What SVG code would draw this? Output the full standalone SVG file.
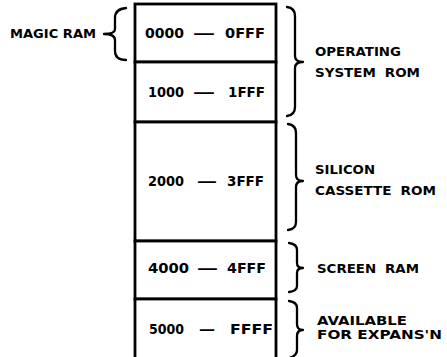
<svg xmlns="http://www.w3.org/2000/svg" width="447" height="357" viewBox="0 0 447 357">
<style>
.box{fill:#fff;stroke:#000;stroke-width:2.8}
.br{fill:none;stroke:#000;stroke-width:2.3;stroke-linecap:round;stroke-linejoin:round}
.rng{font-family:"DejaVu Sans","Liberation Sans",Arial,sans-serif;font-weight:bold;font-size:13.5px;fill:#000}
.lbl{font-family:"DejaVu Sans","Liberation Sans",Arial,sans-serif;font-weight:bold;font-size:12.5px;fill:#000}
</style>
<rect width="447" height="357" fill="#fff"/>
<g id="memory-map">
<g id="seg-0000"><rect class="box" x="135" y="4" width="141" height="58"/><text class="rng" y="38"><tspan x="145" textLength="39" lengthAdjust="spacingAndGlyphs">0000</tspan><tspan x="193" textLength="22" lengthAdjust="spacingAndGlyphs">—</tspan><tspan x="225" textLength="40" lengthAdjust="spacingAndGlyphs">0FFF</tspan></text></g>
<g id="seg-1000"><rect class="box" x="135" y="62" width="141" height="60"/><text class="rng" y="97"><tspan x="148" textLength="36" lengthAdjust="spacingAndGlyphs">1000</tspan><tspan x="193" textLength="22" lengthAdjust="spacingAndGlyphs">—</tspan><tspan x="228" textLength="37" lengthAdjust="spacingAndGlyphs">1FFF</tspan></text></g>
<g id="seg-2000"><rect class="box" x="135" y="122" width="141" height="119"/><text class="rng" y="186"><tspan x="148" textLength="36" lengthAdjust="spacingAndGlyphs">2000</tspan><tspan x="197" textLength="20" lengthAdjust="spacingAndGlyphs">—</tspan><tspan x="227" textLength="37" lengthAdjust="spacingAndGlyphs">3FFF</tspan></text></g>
<g id="seg-4000"><rect class="box" x="135" y="241" width="141" height="58"/><text class="rng" y="273"><tspan x="148" textLength="41" lengthAdjust="spacingAndGlyphs">4000</tspan><tspan x="197" textLength="21" lengthAdjust="spacingAndGlyphs">—</tspan><tspan x="227" textLength="39" lengthAdjust="spacingAndGlyphs">4FFF</tspan></text></g>
<g id="seg-5000"><rect class="box" x="135" y="299" width="141" height="70"/><text class="rng" y="334"><tspan x="149" textLength="35" lengthAdjust="spacingAndGlyphs">5000</tspan><tspan x="199" textLength="16" lengthAdjust="spacingAndGlyphs">—</tspan><tspan x="230" textLength="43" lengthAdjust="spacingAndGlyphs">FFFF</tspan></text></g>
</g>
<g id="connectors">
<path class="br" d="M126 8 Q115 9 115 18 L115 29 Q115 34 104 34 Q115 34 115 40 L115 51 Q115 60 126 60"/>
<path class="br" d="M287 7 Q295 8 295 16 L295 56 Q295 62 303 62 Q295 62 295 68 L295 107 Q295 115 287 116"/>
<path class="br" d="M288 124 Q296 125 296 133 L296 175 Q296 181 303 181 Q296 181 296 187 L296 222 Q296 229 288 230"/>
<path class="br" d="M289 243 Q297 244 297 250 L297 263 Q297 268 303 268 Q297 268 297 273 L297 286 Q297 291 289 292"/>
<path class="br" d="M289 301 Q297 302 297 308 L297 324 Q297 330 303 330 Q297 330 297 336 L297 350 Q297 356 289 358"/>
</g>
<g id="label-magic-ram"><text class="lbl" x="10" y="38" font-size="13" textLength="86" lengthAdjust="spacingAndGlyphs">MAGIC RAM</text></g>
<g id="label-os-rom"><text class="lbl" x="315" y="56" textLength="86" lengthAdjust="spacingAndGlyphs">OPERATING</text><text class="lbl" x="315" y="77" textLength="105" lengthAdjust="spacingAndGlyphs" word-spacing="4">SYSTEM ROM</text></g>
<g id="label-cassette"><text class="lbl" x="315" y="174" textLength="60" lengthAdjust="spacingAndGlyphs">SILICON</text><text class="lbl" x="315" y="195" textLength="121" lengthAdjust="spacingAndGlyphs" word-spacing="4">CASSETTE ROM</text></g>
<g id="label-screen"><text class="lbl" x="317" y="273" textLength="102" lengthAdjust="spacingAndGlyphs" word-spacing="4">SCREEN RAM</text></g>
<g id="label-avail"><text class="lbl" x="317" y="325" textLength="90" lengthAdjust="spacingAndGlyphs">AVAILABLE</text><text class="lbl" x="317" y="339" textLength="125" lengthAdjust="spacingAndGlyphs">FOR EXPANS'N</text></g>
</svg>
